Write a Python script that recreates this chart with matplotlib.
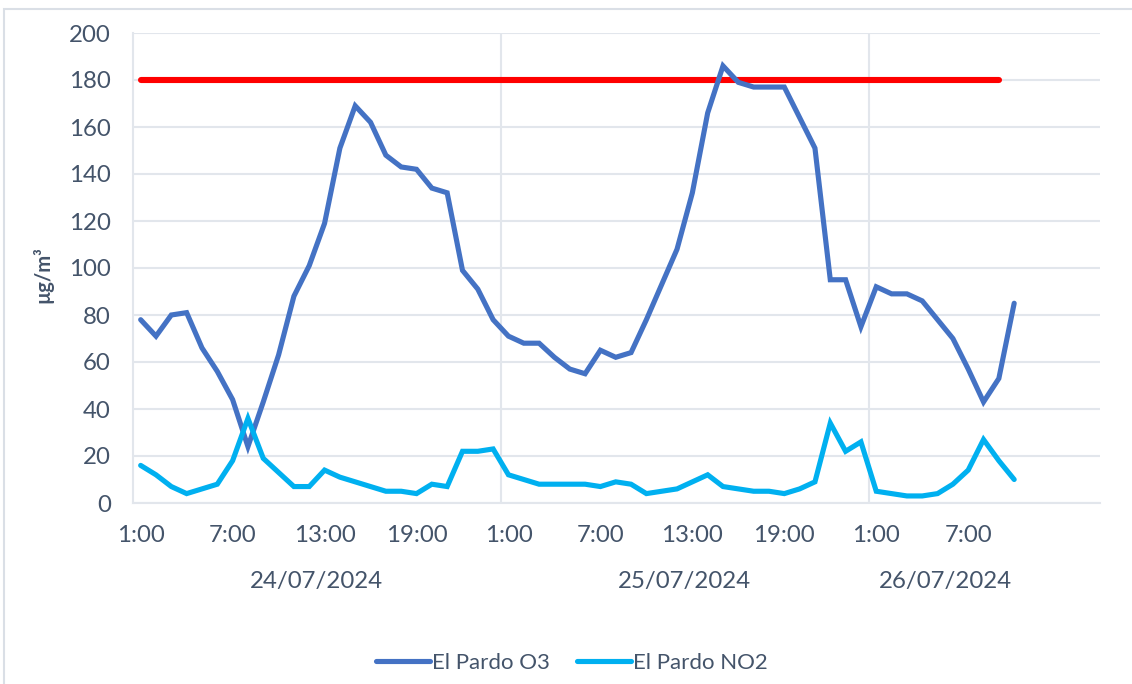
import numpy as np
import matplotlib.pyplot as plt
from matplotlib.patches import Rectangle
from matplotlib.transforms import blended_transform_factory

plt.rcParams['font.family'] = ['Lato', 'DejaVu Sans']

# hourly values, 24/07/2024 1:00 -> 26/07/2024 10:00
o3 = [78, 71, 80, 81, 66, 56, 44, 24, 43, 63, 88, 101,
      119, 151, 169, 162, 148, 143, 142, 134, 132, 99, 91, 78,
      71, 68, 68, 62, 57, 55, 65, 62, 64, 78, 93, 108,
      132, 166, 186, 179, 177, 177, 177, 164, 151, 95, 95, 75,
      92, 89, 89, 86, 78, 70, 57, 43, 53, 85]
no2 = [16, 12, 7, 4, 6, 8, 18, 36, 19, 13, 7, 7,
       14, 11, 9, 7, 5, 5, 4, 8, 7, 22, 22, 23,
       12, 10, 8, 8, 8, 8, 7, 9, 8, 4, 5, 6,
       9, 12, 7, 6, 5, 5, 4, 6, 9, 34, 22, 26,
       5, 4, 3, 3, 4, 8, 14, 27, 18, 10]
limit_value = 180
limit_span = (0, 56)

hour_labels = ['1:00', '7:00', '13:00', '19:00', '1:00', '7:00', '13:00', '19:00', '1:00', '7:00']
dates = ['24/07/2024', '25/07/2024', '26/07/2024']
hours_per_date = [24, 24, 10]

text_color = '#44546A'
grid_color = '#E2E6EC'
fs = 17.3

x = np.arange(len(o3))

fig = plt.figure(figsize=(11.32, 6.84), dpi=100)
ax = fig.add_axes([133 / 1132, 1 - 503 / 684, (1100 - 133) / 1132, 470 / 684])

# outer chart border
fig.patches.append(Rectangle((4 / 1132, -0.1), 1.2, 1 - 9 / 684 + 0.1, transform=fig.transFigure,
                             fill=False, edgecolor='#DADFE6', linewidth=1.5))

ax.plot(list(limit_span), [limit_value, limit_value], color='#FF0000', lw=4.4,
        solid_capstyle='round', zorder=3)
ax.plot(x, o3, color='#4472C4', lw=3.7, solid_joinstyle='miter', solid_capstyle='round',
        label='El Pardo O3', zorder=4)
ax.plot(x, no2, color='#00B0F0', lw=3.7, solid_joinstyle='miter', solid_capstyle='round',
        label='El Pardo NO2', zorder=4)

ax.set_ylim(0, 200)
ax.set_xlim(-0.5, 62.6)
ax.set_yticks(np.arange(0, 201, 20))
ax.yaxis.grid(True, color=grid_color, lw=1.5)
ax.set_axisbelow(True)

# day separators
bounds = np.cumsum(hours_per_date)[:-1] - 0.5
for b in bounds:
    ax.axvline(b, color=grid_color, lw=1.5, zorder=1)

ax.set_xticks(np.arange(0, len(o3), 6))
ax.set_xticklabels(hour_labels)
ax.tick_params(axis='both', length=0, labelsize=fs, labelcolor=text_color)
ax.tick_params(axis='x', pad=16)
ax.tick_params(axis='y', pad=16)

for side in ['top', 'right']:
    ax.spines[side].set_visible(False)
for side in ['left', 'bottom']:
    ax.spines[side].set_color(grid_color)
    ax.spines[side].set_linewidth(1.5)

trans = blended_transform_factory(ax.transData, ax.transAxes)
start = 0
for d, n in zip(dates, hours_per_date):
    ax.text(start + (n - 1) / 2, -0.166, d, transform=trans, ha='center', va='center',
            fontsize=fs, color=text_color)
    start += n

fig.text(43 / 1132, 1 - 275 / 684, 'µg/m³', rotation=90, ha='center', va='center',
         fontsize=14.5, fontweight='bold', color=text_color)

leg = fig.legend(loc='center', bbox_to_anchor=(0.5 + 6 / 1132, 1 - 663 / 684), ncol=2,
                 frameon=False, fontsize=16, handlelength=2.4, handletextpad=0.1,
                 columnspacing=1.25)
for t in leg.get_texts():
    t.set_color(text_color)

fig.savefig('out.png', dpi=100)
